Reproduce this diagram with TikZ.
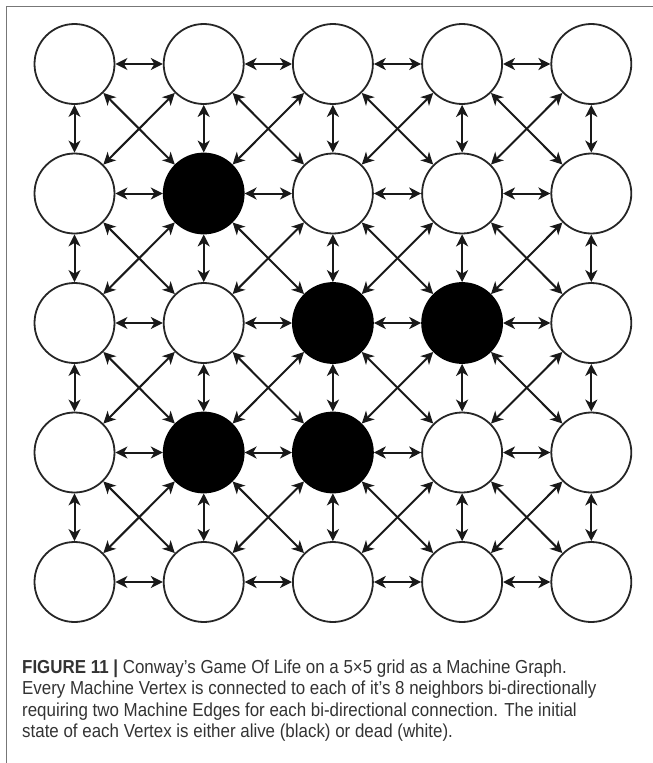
\documentclass[tikz,border=0pt]{standalone}
\usepackage{fontspec}
\setmainfont{Liberation Sans}
\newfontfamily\capfont[FakeStretch=0.9]{Liberation Sans}
\usepackage{xcolor}
\usetikzlibrary{arrows.meta}

\definecolor{capgray}{HTML}{333333}
\definecolor{framegray}{HTML}{777777}

\begin{document}
\begin{tikzpicture}[x=1pt, y=-1pt,
  cell/.style={circle, draw=black!85, line width=1.8pt, minimum size=80pt, inner sep=0pt, fill=white},
  alive/.style={cell, fill=black, draw=black},
  arr/.style={{Stealth[length=12pt,width=12pt,inset=3.5pt]}-{Stealth[length=12pt,width=12pt,inset=3.5pt]}, line width=2pt, black!90},
  caption/.style={anchor=base west, inner sep=0pt, text=capgray, font=\capfont\fontsize{18.8}{21}\selectfont}
]
\useasboundingbox (0,0) rectangle (653,763);
\draw[framegray, line width=1.4pt] (653,6.5) -- (6.5,6.5) -- (6.5,763);

% the 5x5 grid of vertices
\node[cell]  (n11) at (74.5,64)    {};
\node[cell]  (n12) at (203.7,64)   {};
\node[cell]  (n13) at (332.9,64)   {};
\node[cell]  (n14) at (462.1,64)   {};
\node[cell]  (n15) at (591.3,64)   {};
\node[cell]  (n21) at (74.5,193.5) {};
\node[alive] (n22) at (203.7,193.5) {};
\node[cell]  (n23) at (332.9,193.5) {};
\node[cell]  (n24) at (462.1,193.5) {};
\node[cell]  (n25) at (591.3,193.5) {};
\node[cell]  (n31) at (74.5,323)   {};
\node[cell]  (n32) at (203.7,323)  {};
\node[alive] (n33) at (332.9,323)  {};
\node[alive] (n34) at (462.1,323)  {};
\node[cell]  (n35) at (591.3,323)  {};
\node[cell]  (n41) at (74.5,452.5) {};
\node[alive] (n42) at (203.7,452.5) {};
\node[alive] (n43) at (332.9,452.5) {};
\node[cell]  (n44) at (462.1,452.5) {};
\node[cell]  (n45) at (591.3,452.5) {};
\node[cell]  (n51) at (74.5,582)   {};
\node[cell]  (n52) at (203.7,582)  {};
\node[cell]  (n53) at (332.9,582)  {};
\node[cell]  (n54) at (462.1,582)  {};
\node[cell]  (n55) at (591.3,582)  {};

% edges to the 8 neighbours
\foreach \i in {1,2,3,4,5}{
  \foreach \j/\k in {1/2,2/3,3/4,4/5}{
    \draw[arr] (n\i\j) -- (n\i\k);
    \draw[arr] (n\j\i) -- (n\k\i);
  }
}
\foreach \i/\m in {1/2,2/3,3/4,4/5}{
  \foreach \j/\k in {1/2,2/3,3/4,4/5}{
    \draw[arr] (n\i\j) -- (n\m\k);
    \draw[arr] (n\i\k) -- (n\m\j);
  }
}

% caption
\node[caption] (cap1) at (22,673)   {\textbf{FIGURE 11 |} Conway’s Game Of Life on a 5×5 grid as a Machine Graph.};
\node[caption] (cap2) at (22,694.5) {Every Machine Vertex is connected to each of it’s 8 neighbors bi-directionally};
\node[caption] (cap3) at (22,716)   {requiring two Machine Edges for each bi-directional connection. The initial};
\node[caption] (cap4) at (22,737)   {state of each Vertex is either alive (black) or dead (white).};
\end{tikzpicture}
\end{document}
